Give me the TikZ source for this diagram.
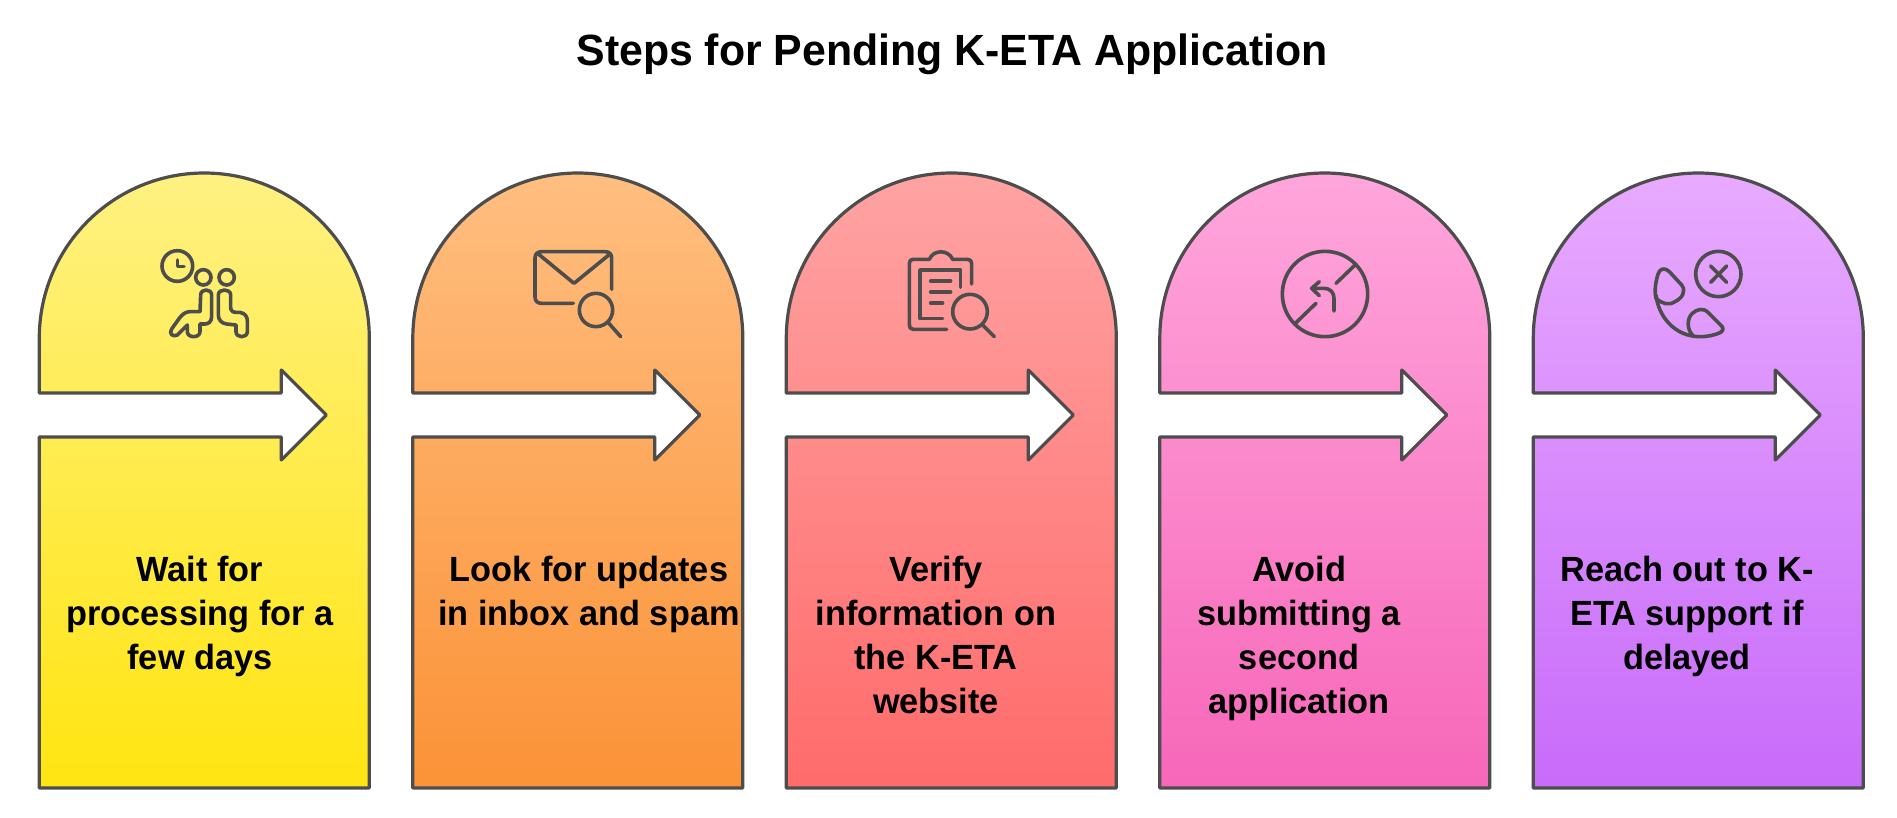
\documentclass[tikz,border=0pt]{standalone}
\usepackage{fontspec}
\setmainfont{Liberation Sans}[BoldFont={Liberation Sans Bold},FakeStretch=0.98]
\definecolor{ink}{HTML}{4D4D4D}
\definecolor{ya}{HTML}{FFF182}\definecolor{yb}{HTML}{FFE511}
\definecolor{oa}{HTML}{FFBE80}\definecolor{ob}{HTML}{FB9237}
\definecolor{ra}{HTML}{FFA3A3}\definecolor{rb}{HTML}{FF6B6B}
\definecolor{pa}{HTML}{FFA6DC}\definecolor{pb}{HTML}{F767B9}
\definecolor{va}{HTML}{E8AAFF}\definecolor{vb}{HTML}{C86BFA}
\tikzset{
  cardline/.style={draw=ink,line width=3.2pt,line join=round},
  iconline/.style={draw=ink,line width=3.6pt,line cap=round,line join=round},
  icon/.style={x=0.33333pt,y=-0.33333pt},
  steptext/.style={anchor=north,align=center,inner sep=0pt,font=\fontsize{35}{44}\selectfont\bfseries,text=black},
}
\newcommand{\cardat}[3]{%
  \path[cardline,top color=#2,bottom color=#3]
    (#1,393) -- (#1,338) arc[start angle=180,end angle=360,radius=165] -- ++(0,450) -- ++(-330,0)
    -- (#1,437) -- ++(242,0) -- ++(0,23) -- ++(45,-45) -- ++(-45,-45) -- ++(0,23) -- cycle;}
\begin{document}
\begin{tikzpicture}[x=1pt,y=-1pt]
\useasboundingbox (0,0) rectangle (1897,817);
\fill[white] (0,0) rectangle (1897,817);
\node[inner sep=0pt,font=\fontsize{43.7}{50}\selectfont\bfseries] (title) at (952,54.5) {Steps for Pending K-ETA Application};
\cardat{39.3}{ya}{yb}
\cardat{412.8}{oa}{ob}
\cardat{786.3}{ra}{rb}
\cardat{1159.8}{pa}{pb}
\cardat{1533.3}{va}{vb}
\node[steptext] (t1) at (200,555.5) {Wait for\\processing for a\\few days};
\node[steptext] (t2) at (589,555.5) {Look for updates\\in inbox and spam};
\node[steptext] (t3) at (936,555.5) {Verify\\information on\\the K-ETA\\website};
\node[steptext] (t4) at (1299,555.5) {Avoid\\submitting a\\second\\application};
\node[steptext] (t5) at (1687,555.5) {Reach out to K-\\ETA support if\\delayed};
% icon 1
\begin{scope}[icon,shift={(130pt,-230pt)}]
\draw[iconline] (142,108) circle[radius=46];
\draw[iconline] (142,90) -- (142,110) -- (162,110);
\draw[iconline] (220,142) circle[radius=23];
\draw[iconline] (290,142) circle[radius=23];
\draw[iconline] (212,195) .. controls (212,175) and (245,175) .. (245,195) -- (245,260)
  .. controls (245,275) and (235,282) .. (225,282) -- (210,282) -- (210,305)
  .. controls (210,325) and (172,325) .. (172,305) -- (172,285) -- (160,297) -- (142,315)
  .. controls (130,322) and (115,312) .. (125,297) -- (150,262)
  .. controls (160,250) and (170,245) .. (180,245) -- (210,245) -- cycle;
\draw[iconline] (265,195) .. controls (265,175) and (302,175) .. (302,195) -- (302,232)
  .. controls (302,242) and (308,247) .. (318,247) -- (330,247)
  .. controls (345,250) and (352,260) .. (352,272) -- (352,305)
  .. controls (352,325) and (318,325) .. (318,305) -- (318,285) -- (290,282)
  .. controls (275,280) and (265,270) .. (265,255) -- cycle;
\end{scope}
% icon 2
\begin{scope}[icon,shift={(510pt,-230pt)}]
\draw[iconline] (305,178) -- (305,85) .. controls (305,72) and (298,65) .. (285,65) -- (95,65)
  .. controls (82,65) and (75,72) .. (75,85) -- (75,200) .. controls (75,213) and (82,220) .. (95,220) -- (190,220);
\draw[iconline] (85,72) -- (192,160) -- (300,72);
\draw[iconline] (258,240) circle[radius=50];
\draw[iconline] (295,278) -- (332,320);
\end{scope}
% icon 3
\begin{scope}[icon,shift={(880pt,-230pt)}]
\draw[iconline] (275,162) -- (275,100) .. controls (275,92) and (270,88) .. (262,88) -- (218,88)
  .. controls (205,58) and (160,58) .. (148,88) -- (100,88) .. controls (92,88) and (88,92) .. (88,100)
  -- (88,285) .. controls (88,293) and (92,298) .. (100,298) -- (200,298);
\draw[iconline] (242,172) -- (242,120) -- (120,120) -- (120,265) -- (188,265);
\draw[iconline] (152,153) -- (212,153);
\draw[iconline] (152,186) -- (212,186);
\draw[iconline] (152,219) -- (188,219);
\draw[iconline] (270,245) circle[radius=52];
\draw[iconline] (308,285) -- (343,320);
\end{scope}
% icon 4
\begin{scope}[icon,shift={(1260pt,-230pt)}]
\draw[iconline] (195,192) circle[radius=128];
\draw[iconline] (108,278) -- (168,220);
\draw[iconline] (228,160) -- (285,105);
\draw[iconline] (222,243) -- (222,205) .. controls (222,187) and (210,175) .. (192,175) -- (155,175);
\draw[iconline] (178,155) -- (155,175) -- (178,197);
\end{scope}
% icon 5
\begin{scope}[icon,shift={(1630pt,-230pt)}]
\draw[iconline] (265,132) circle[radius=68];
\draw[iconline] (242,108) -- (290,157);
\draw[iconline] (290,108) -- (242,157);
\draw[iconline] (85,130) .. controls (90,115) and (105,112) .. (118,125) -- (155,165)
  .. controls (170,185) and (155,205) .. (135,215) .. controls (115,228) and (95,220) .. (78,205)
  .. controls (72,180) and (78,150) .. (85,130) -- cycle;
\draw[iconline] (78,195) .. controls (85,260) and (135,320) .. (210,320) .. controls (235,320) and (255,315) .. (272,307)
  .. controls (282,300) and (280,292) .. (272,285) -- (235,248) .. controls (220,232) and (200,238) .. (187,250)
  .. controls (170,265) and (170,300) .. (190,318);
\end{scope}
\end{tikzpicture}
\end{document}
